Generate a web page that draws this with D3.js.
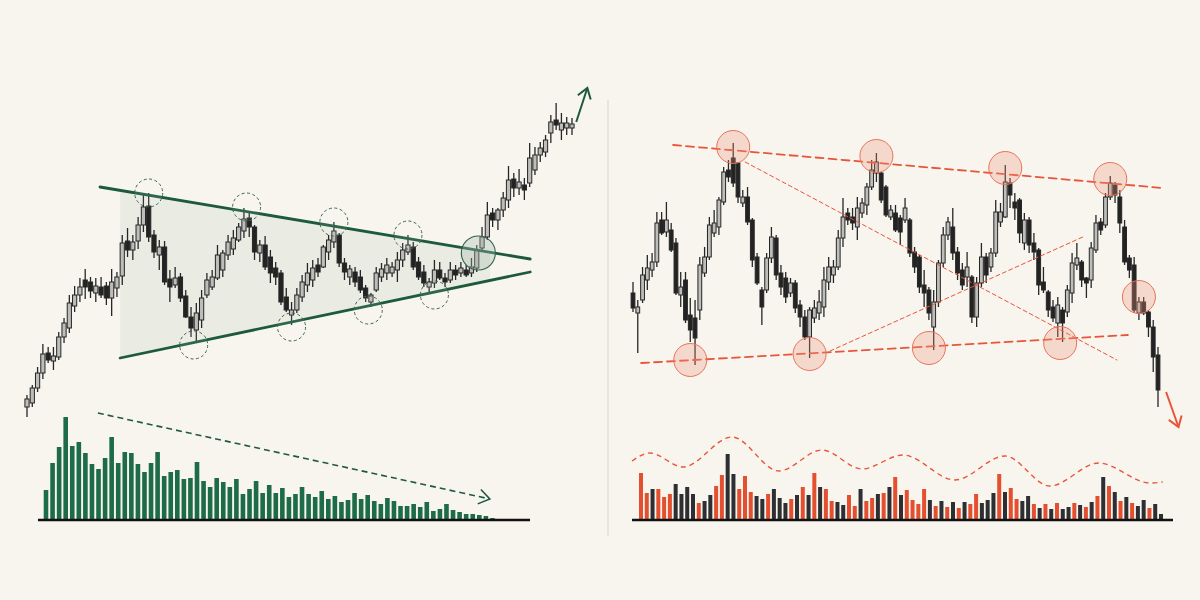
<!DOCTYPE html>
<html><head><meta charset="utf-8">
<script src="https://cdn.jsdelivr.net/npm/d3@7"></script>
<style>html,body{margin:0;padding:0;background:#f8f5ee;}svg{display:block;}</style>
</head><body>
<svg id="c" width="1200" height="600"></svg>
<script>
// ---------- DATA (price units; OHLC as [open, high, low, close]) ----------
const leftCandles = [
[93,105,83,101],[97,115,93,112],[112,133,108,127],[127,156,121,146],[147,153,137,140],[139,153,130,144],[143,168,140,163],[163,182,157,177],[172,205,167,197],[194,214,188,205],
[205,222,198,213],[220,231,201,213],[218,223,202,209],[207,222,198,214],[213,223,202,205],[214,218,195,202],[202,231,184,218],[212,228,203,223],[224,265,215,257],[259,272,243,250],
[250,265,240,258],[259,283,251,275],[275,307,268,293],[294,307,258,263],[265,270,242,248],[245,260,230,253],[253,259,215,218],[221,230,198,213],[215,233,212,222],[223,227,198,202],
[204,210,182,183],[183,193,163,172],[170,197,158,187],[180,210,172,202],[205,227,202,220],[213,230,210,223],[222,255,220,245],[230,250,223,247],[245,265,240,258],[251,270,245,262],
[260,277,258,273],[269,292,262,281],[282,288,263,273],[273,275,240,248],[247,260,238,255],[255,264,230,233],[243,250,217,227],[232,238,215,223],[227,230,195,198],[203,212,188,190],
[185,198,175,190],[190,212,187,205],[203,225,198,218],[215,237,208,227],[220,240,213,232],[235,242,223,228],[233,255,232,253],[248,265,240,260],[258,278,252,269],[265,267,233,237],
[237,242,220,228],[223,235,215,231],[228,233,213,218],[223,230,207,210],[212,215,198,202],[198,207,193,205],[210,233,208,227],[223,237,218,231],[227,242,220,235],[227,238,223,233],
[230,248,218,240],[240,257,233,250],[248,265,245,255],[253,258,230,233],[238,243,220,223],[228,235,213,217],[213,222,207,218],[217,240,212,230],[230,238,220,222],[222,227,213,218],
[220,238,217,230],[230,235,220,225],[227,238,223,232],[230,235,223,225],[227,242,223,233],[232,255,228,250],[252,273,248,263],[263,298,260,285],[287,292,273,280],[280,292,270,290],
[290,308,283,302],[300,334,292,320],[321,327,303,312],[312,331,305,318],[315,322,300,310],[317,357,313,342],[330,353,325,345],[345,358,338,352],[348,365,343,360],[367,385,357,378],
[380,397,370,375],[370,387,360,377],[372,383,365,377],[372,382,365,376]
];
const rightCandles = [
[207,218,188,192],[187,200,147,193],[200,233,197,225],[220,245,210,232],[230,247,223,238],[238,288,233,277],[280,288,265,267],[268,298,263,280],[270,277,248,250],[257,262,205,207],
[205,228,193,213],[220,228,177,180],[185,202,158,170],[182,200,135,162],[190,243,180,235],[227,253,223,243],[243,283,240,275],[267,290,263,277],[273,303,265,300],[298,333,295,328],
[330,340,318,323],[342,357,313,317],[337,338,297,303],[297,310,293,303],[303,313,275,278],[280,282,233,240],[243,247,215,217],[210,213,175,193],[210,247,207,242],[242,273,237,263],
[262,265,220,225],[227,235,205,213],[222,228,197,203],[207,222,203,217],[217,220,187,192],[195,200,173,183],[183,190,160,163],[163,193,142,190],[182,200,177,192],[187,210,180,198],
[193,233,183,220],[218,243,210,233],[225,240,217,233],[233,270,230,262],[262,302,253,283],[287,292,275,280],[283,292,270,277],[273,303,260,292],[287,302,282,297],[295,317,285,313],
[313,340,310,330],[327,347,318,338],[327,328,297,300],[313,315,283,285],[283,295,280,290],[287,295,268,270],[282,285,255,268],[280,302,277,292],[280,282,243,247],[248,253,227,233],
[243,245,207,213],[215,230,193,207],[210,213,180,187],[173,210,150,198],[198,240,193,237],[237,273,233,265],[265,283,260,278],[273,292,240,247],[248,253,220,227],[230,237,210,215],
[223,248,213,233],[223,225,177,183],[183,223,173,217],[217,257,213,243],[243,247,217,225],[233,252,228,247],[247,300,243,288],[278,297,273,288],[283,335,282,318],[317,322,292,305],
[298,307,280,292],[300,302,257,267],[257,287,250,280],[280,283,247,255],[257,267,240,248],[250,252,205,215],[218,233,207,210],[208,210,183,190],[193,200,178,182],[177,203,163,195],
[190,193,158,177],[188,215,183,210],[207,247,197,237],[235,257,230,242],[238,240,213,220],[222,223,202,217],[220,258,212,252],[250,285,247,277],[278,282,265,270],[275,307,272,303],
[303,324,300,317],[315,318,297,305],[303,310,267,277],[273,280,235,238],[242,245,222,230],[235,243,187,190],[187,203,180,198],[198,203,185,187],[188,190,163,173],[173,180,128,143],
[145,153,93,110]
];
const leftVolume = [30,57,73,103,74,78,67,56,51,62, 83,57,68,67,56,48,57,68,44,48, 50,41,42,58,39,33,42,38,33,41,
  26,31,39,27,35,27,32,23,26,33, 26,23,29,21,24,18,20,27,21,25, 19,16,22,19,14,14,16,13,18,9, 11,16,10,8,6,6,5,4,2,1];
const rightVolume = [47,27,31,31,23,26,36,26,33,26, 17,19,25,34,45,66,46,31,44,28, 24,21,26,31,22,17,21,25,33,25,
  47,33,31,19,18,15,25,14,31,19, 22,26,27,33,43,25,30,20,16,31, 20,14,19,13,18,12,18,16,26,17,
  20,27,46,28,32,21,19,24,16,12, 16,11,17,11,13,17,15,13,18,24, 43,34,28,19,23,17,14,20,12,16, 6];
const rightVolumeSide = "rrdrrrdddd rddrrddrrr ddrdddrdrd rdrrddrrdr rdrdrdrrrr drdrdrdrrd ddrdrrddrd rdrddrdrdr drdrdrddrd d".replace(/ /g,"").split("");
// volume envelope wave (bar index, volume)
const rightWave = [[-1.56,59],[1.56,67],[7.27,53],[15.74,83],[23.88,49],[31.31,70],[38.24,51],[45.33,65],[54.33,40],[62.98,64],[70.76,34],[79.24,57],[88.06,37],[90.31,38]];
// annotations (candle index, price)
const leftUpperLine = [[13.8,313],[95.1,241]];
const leftLowerLine = [[17.6,142],[95.1,228]];
const leftShadeEnd = 87.5;
const leftPivots = [[23,307],[31.5,155],[41.5,293],[50,173],[58,278],[64.5,190],[72,265],[77,205]];
const leftBreakout = [85.3,247];
const leftArrow = [[103.8,378],[105.9,412]];
const leftVolArrow = [[7.9,107],[67.6,21]];
const rightTopLine = [[8.4,355],[111.0,312]];
const rightBottomLine = [[1.7,137],[103.7,165]];
const rightThinDown = [[23.5,338],[101.4,140]];
const rightThinUp = [[41.3,149],[94.7,264]];
const rightPivots = [[21,353],[12,140],[51,344],[37,146],[78,332],[62,152],[100,321],[89.5,157],[106,203]];
const rightArrow = [[111.7,108],[114.3,73]];

// ---------- DRAW ----------
const svg = d3.select("#c");
svg.append("rect").attr("width",1200).attr("height",600).attr("fill","#f8f5ee");

const yPrice = d3.scaleLinear().domain([0,400]).range([500,100]);
const xL = d3.scaleLinear().domain([0,leftCandles.length-1]).range([27,572]);
const xR = d3.scaleLinear().domain([0,rightCandles.length-1]).range([633,1158]);
const yVol = d3.scaleLinear().domain([0,110]).range([520,410]);
const xLV = d3.scaleLinear().domain([0,leftVolume.length-1]).range([46,499]);
const xRV = d3.scaleLinear().domain([0,rightVolume.length-1]).range([641,1161]);

const GREEN="#1d5a3c", RED="#e8553a";

// divider
svg.append("line").attr("x1",608).attr("x2",608).attr("y1",100).attr("y2",536).attr("stroke","#dedbd3").attr("stroke-width",1.2);

// left triangle shade
const gL = svg.append("g");
function lineAt(l, i){ const [a,b]=l; return a[1]+(b[1]-a[1])*(i-a[0])/(b[0]-a[0]); }
const shadeStart = leftLowerLine[0][0];
const shadePts = [[shadeStart,lineAt(leftUpperLine,shadeStart)],[leftShadeEnd,lineAt(leftUpperLine,leftShadeEnd)],
                  [leftShadeEnd,lineAt(leftLowerLine,leftShadeEnd)],[shadeStart,lineAt(leftLowerLine,shadeStart)]];
gL.append("path").attr("d", d3.line().x(d=>xL(d[0])).y(d=>yPrice(d[1]))(shadePts)+"Z")
  .attr("fill","#e8e9df").attr("opacity",0.85);

function drawCandles(g, data, x, bw){
  const c = g.selectAll("g.cd").data(data).join("g");
  c.append("line").attr("x1",(d,i)=>x(i)).attr("x2",(d,i)=>x(i))
    .attr("y1",d=>yPrice(d[1])).attr("y2",d=>yPrice(d[2])).attr("stroke","#262626").attr("stroke-width",1.3);
  c.append("rect").attr("x",(d,i)=>x(i)-bw/2).attr("width",bw)
    .attr("y",d=>yPrice(Math.max(d[0],d[3])))
    .attr("height",d=>Math.max(1.5,Math.abs(yPrice(d[0])-yPrice(d[3]))))
    .attr("fill",d=>d[3]>=d[0]?"#bdbdb9":"#232323")
    .attr("stroke","#262626").attr("stroke-width",1);
}
drawCandles(gL, leftCandles, xL, 4.2);

function seg(g, l, x, y, color, w, dash){
  g.append("line").attr("x1",x(l[0][0])).attr("y1",y(l[0][1])).attr("x2",x(l[1][0])).attr("y2",y(l[1][1]))
   .attr("stroke",color).attr("stroke-width",w).attr("stroke-dasharray",dash||null).attr("stroke-linecap","round");
}
seg(gL, leftUpperLine, xL, yPrice, GREEN, 2.8);
seg(gL, leftLowerLine, xL, yPrice, GREEN, 2.8);

gL.selectAll("circle.pv").data(leftPivots).join("circle")
  .attr("cx",d=>xL(d[0])).attr("cy",d=>yPrice(d[1])).attr("r",14)
  .attr("fill","rgba(255,255,255,0.08)").attr("stroke","#3d6652").attr("stroke-width",1).attr("stroke-dasharray","3,2.5");
gL.append("circle").attr("cx",xL(leftBreakout[0])).attr("cy",yPrice(leftBreakout[1])).attr("r",17)
  .attr("fill","rgba(170,190,175,0.35)").attr("stroke","#2f6049").attr("stroke-width",1.1);

function arrow(g, l, x, y, color, w, dash, head){
  const p0=[x(l[0][0]),y(l[0][1])], p1=[x(l[1][0]),y(l[1][1])];
  g.append("line").attr("x1",p0[0]).attr("y1",p0[1]).attr("x2",p1[0]).attr("y2",p1[1])
    .attr("stroke",color).attr("stroke-width",w).attr("stroke-dasharray",dash||null);
  const a=Math.atan2(p1[1]-p0[1],p1[0]-p0[0]);
  const pts=[[p1[0]-head*Math.cos(a-0.6),p1[1]-head*Math.sin(a-0.6)],p1,[p1[0]-head*Math.cos(a+0.6),p1[1]-head*Math.sin(a+0.6)]];
  g.append("path").attr("d",d3.line()(pts)).attr("fill","none").attr("stroke",color).attr("stroke-width",w).attr("stroke-linejoin","miter");
}
arrow(gL, leftArrow, xL, yPrice, GREEN, 2, null, 12);

// left volume
const gLV = svg.append("g");
gLV.selectAll("rect").data(leftVolume).join("rect")
  .attr("x",(d,i)=>xLV(i)-2.3).attr("width",4.6)
  .attr("y",d=>yVol(d)).attr("height",d=>yVol(0)-yVol(d))
  .attr("fill","#1d6b47");
gLV.append("line").attr("x1",38).attr("x2",530).attr("y1",yVol(0)).attr("y2",yVol(0)).attr("stroke","#111").attr("stroke-width",2.4);
arrow(gLV, leftVolArrow, xLV, yVol, "#1f5a40", 1.6, "6,4", 13);

// right panel
const gR = svg.append("g");
drawCandles(gR, rightCandles, xR, 3.8);
seg(gR, rightTopLine, xR, yPrice, RED, 1.8, "8,5");
seg(gR, rightBottomLine, xR, yPrice, RED, 1.8, "8,5");
seg(gR, rightThinDown, xR, yPrice, RED, 1, "4,3");
seg(gR, rightThinUp, xR, yPrice, RED, 1, "4,3");
gR.selectAll("circle.pv").data(rightPivots).join("circle")
  .attr("cx",d=>xR(d[0])).attr("cy",d=>yPrice(d[1])).attr("r",16.5)
  .attr("fill","rgba(240,150,125,0.3)").attr("stroke","#e8735a").attr("stroke-width",1);
arrow(gR, rightArrow, xR, yPrice, RED, 2, null, 12);

// right volume
const gRV = svg.append("g");
gRV.selectAll("rect").data(rightVolume).join("rect")
  .attr("x",(d,i)=>xRV(i)-2).attr("width",4)
  .attr("y",d=>yVol(d)).attr("height",d=>yVol(0)-yVol(d))
  .attr("fill",(d,i)=>rightVolumeSide[i]==="r"?"#e4502f":"#2e2f33");
gRV.append("line").attr("x1",632).attr("x2",1173).attr("y1",yVol(0)).attr("y2",yVol(0)).attr("stroke","#111").attr("stroke-width",2.4);
gRV.append("path").attr("d",d3.line().curve(d3.curveMonotoneX).x(d=>xRV(d[0])).y(d=>yVol(d[1]))(rightWave))
  .attr("fill","none").attr("stroke",RED).attr("stroke-width",1.4).attr("stroke-dasharray","5,4");
</script>
</body></html>
